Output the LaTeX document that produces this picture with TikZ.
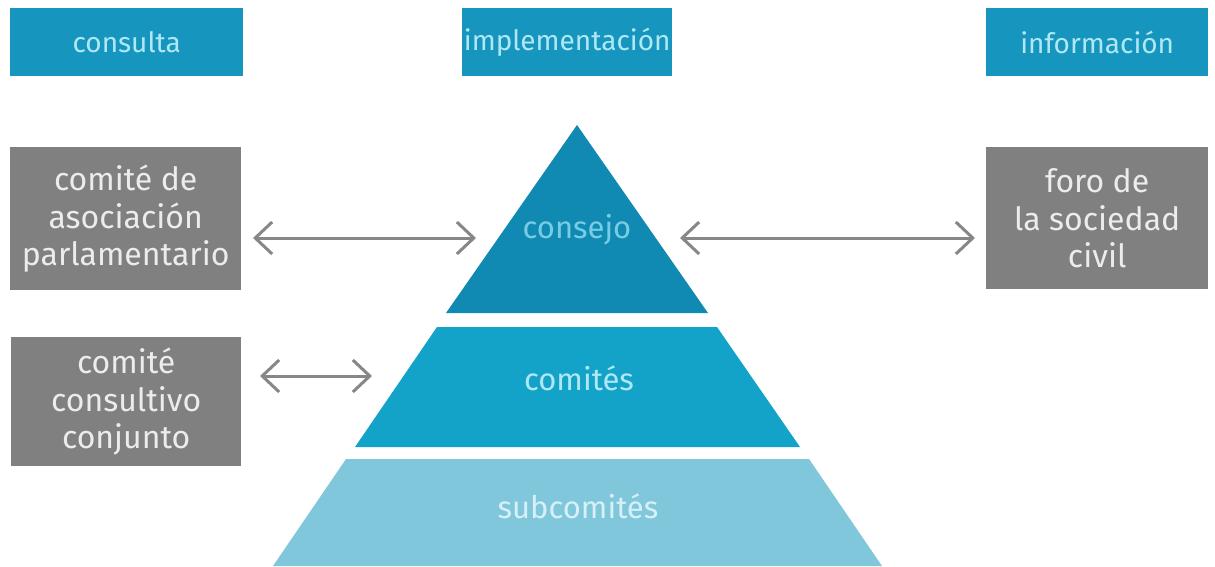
\documentclass[tikz,border=0pt]{standalone}
\usepackage{fontspec}
\setmainfont{Fira Sans}
\usetikzlibrary{arrows.meta,calc}
\definecolor{topblue}{RGB}{22,150,190}
\definecolor{toptext}{RGB}{175,232,244}
\definecolor{consejoc}{RGB}{16,138,178}
\definecolor{consejot}{RGB}{120,205,228}
\definecolor{comitesc}{RGB}{20,163,200}
\definecolor{comitest}{RGB}{175,232,244}
\definecolor{subc}{RGB}{128,199,220}
\definecolor{subt}{RGB}{215,240,248}
\definecolor{boxgray}{RGB}{128,128,128}
\definecolor{graytext}{RGB}{236,236,236}
\definecolor{arrgray}{RGB}{135,135,135}
\tikzset{
  headbox/.style={fill=topblue, text=toptext, anchor=north west, inner sep=0pt,
    font=\fontsize{28}{32}\selectfont},
  graybox/.style={fill=boxgray, text=graytext, anchor=north west, inner sep=0pt,
    align=center, font=\fontsize{32}{37.5}\selectfont},
  layertext/.style={inner sep=0pt, font=\fontsize{31}{34}\selectfont},
  arr/.style={draw=arrgray, line width=3pt,
    {Straight Barb[length=17pt,width=32pt]}-{Straight Barb[length=17pt,width=32pt]}}
}
\begin{document}
\begin{tikzpicture}[x=1pt,y=-1pt]
\useasboundingbox[fill=white] (0,0) rectangle (1215,567);
% header boxes
\node[headbox, minimum width=233pt, minimum height=68pt] (consulta) at (10,8) {consulta};
\node[headbox, minimum width=210pt, minimum height=68pt] (impl) at (462,8) {implementación};
\node[headbox, minimum width=222pt, minimum height=68pt] (info) at (986,8) {información};
% gray boxes
\node[graybox, minimum width=231pt, minimum height=143pt] (asoc) at (10,147) {comité de\\asociación\\parlamentario};
\node[graybox, minimum width=230pt, minimum height=129pt] (consul) at (11,337) {comité\\consultivo\\conjunto};
\node[graybox, minimum width=222pt, minimum height=142pt] (foro) at (986,147) {foro de\\la sociedad\\civil};
% pyramid
\fill[consejoc] (577,125) -- (708,313) -- (446,313) -- cycle;
\fill[comitesc] (717,327) -- (800,447) -- (355,447) -- (437,327) -- cycle;
\fill[subc] (809,459) -- (882,566) -- (273,566) -- (346,459) -- cycle;
\node[layertext, text=consejot] (consejo) at (577,230) {consejo};
\node[layertext, text=comitest] (comites) at (579,378) {comités};
\node[layertext, text=subt] (subcom) at (578,506) {subcomités};
% arrow end points
\coordinate (a1) at (253,238);
\coordinate (a2) at (476,238);
\coordinate (b1) at (680,238);
\coordinate (b2) at (975,238);
\coordinate (c1) at (260,376);
\coordinate (c2) at (372,376);
\draw[arr] (a1) -- (a2);
\draw[arr] (b1) -- (b2);
\draw[arr] (c1) -- (c2);
\end{tikzpicture}
\end{document}
